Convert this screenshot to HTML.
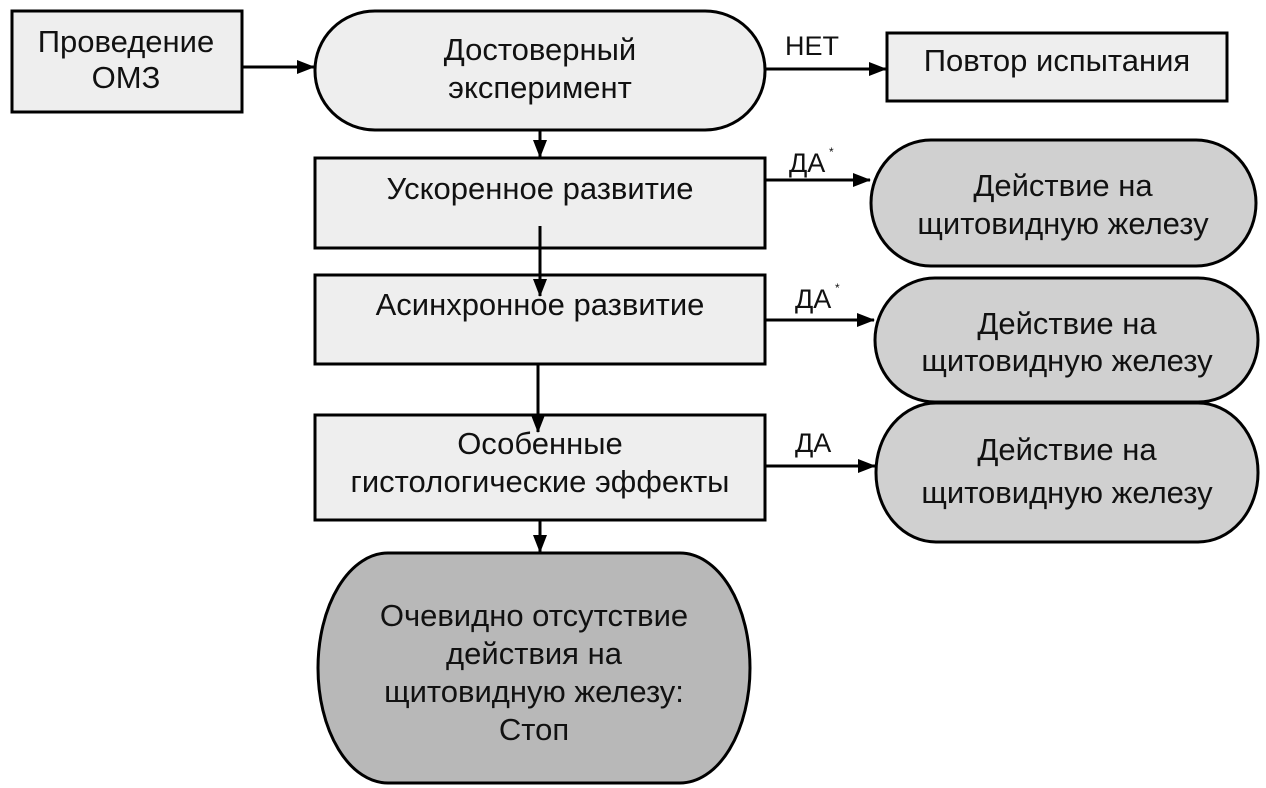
<!DOCTYPE html>
<html><head><meta charset="utf-8"><style>
html,body{margin:0;padding:0;background:#fff;}
svg{display:block;}
text{font-family:"Liberation Sans",Arial,sans-serif;font-size:31px;fill:#111;}
</style></head><body>
<svg width="1266" height="788" viewBox="0 0 1266 788" xmlns="http://www.w3.org/2000/svg">
<defs>
<marker id="b" markerWidth="18" markerHeight="14" refX="17" refY="7" orient="auto" markerUnits="userSpaceOnUse"><path d="M0,0 L18,7 L0,14 z" fill="#000"/></marker></defs>
<g stroke="#000" stroke-width="3">
<rect x="12" y="11" width="230" height="101" fill="#eeeeee"/>
<rect x="315" y="11" width="450" height="119" rx="60" ry="59" fill="#eeeeee"/>
<rect x="887" y="33" width="340" height="68" fill="#eeeeee"/>
<rect x="315" y="158" width="450" height="90" fill="#eeeeee"/>
<rect x="315" y="275" width="450" height="89" fill="#eeeeee"/>
<rect x="315" y="415" width="450" height="105" fill="#eeeeee"/>
<rect x="871" y="140" width="385" height="126" rx="60" ry="63" fill="#d0d0d0"/>
<rect x="875" y="278" width="383" height="124" rx="60" ry="62" fill="#d0d0d0"/>
<rect x="876" y="403" width="382" height="139" rx="60" ry="69" fill="#d0d0d0"/>
<rect x="318" y="553" width="432" height="230" rx="70" ry="115" fill="#b8b8b8"/>
<line x1="242" y1="67" x2="314" y2="67" marker-end="url(#b)"/>
<line x1="765" y1="69" x2="886" y2="69" marker-end="url(#b)"/>
<line x1="540" y1="130" x2="540" y2="157" marker-end="url(#b)"/>
<line x1="540" y1="226" x2="540" y2="296" marker-end="url(#b)"/>
<line x1="538" y1="364" x2="538" y2="432" marker-end="url(#b)"/>
<line x1="540" y1="520" x2="540" y2="552" marker-end="url(#b)"/>
<line x1="765" y1="180" x2="870" y2="180" marker-end="url(#b)"/>
<line x1="765" y1="320" x2="874" y2="320" marker-end="url(#b)"/>
<line x1="765" y1="466" x2="875" y2="466" marker-end="url(#b)"/>
</g>
<g text-anchor="middle">
<text x="126" y="52">Проведение</text><text x="126" y="88">ОМЗ</text>
<text x="540" y="60">Достоверный</text><text x="540" y="98">эксперимент</text>
<text x="1057" y="71">Повтор испытания</text>
<text x="540" y="199">Ускоренное развитие</text>
<text x="540" y="315">Асинхронное развитие</text>
<text x="540" y="454">Особенные</text><text x="540" y="492">гистологические эффекты</text>
<text x="1063" y="196">Действие на</text><text x="1063" y="234">щитовидную железу</text>
<text x="1067" y="334">Действие на</text><text x="1067" y="371">щитовидную железу</text>
<text x="1067" y="460">Действие на</text><text x="1067" y="503">щитовидную железу</text>
<text x="534" y="626">Очевидно отсутствие</text><text x="534" y="664">действия на</text><text x="534" y="702">щитовидную железу:</text><text x="534" y="740">Стоп</text>
</g>
<text x="785" y="55" style="font-size:27px">НЕТ</text>
<text x="789" y="172" style="font-size:27px">ДА</text><text x="829" y="156" style="font-size:12px">*</text>
<text x="795" y="308" style="font-size:27px">ДА</text><text x="835" y="292" style="font-size:12px">*</text>
<text x="795" y="452" style="font-size:27px">ДА</text>
</svg>
</body></html>
